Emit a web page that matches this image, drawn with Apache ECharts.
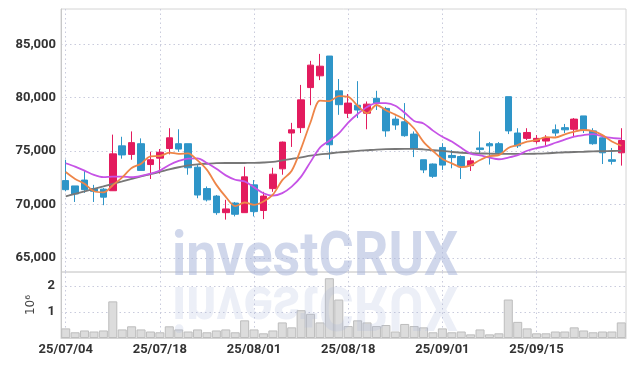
<!DOCTYPE html>
<html><head><meta charset="utf-8">
<script src="https://cdn.jsdelivr.net/npm/echarts@6/dist/echarts.min.js"></script>
<style>html,body{margin:0;padding:0;background:#fff}#c{width:634px;height:366px}</style>
</head><body><div id="c"></div><script>
const dates = ['25/07/04','25/07/07','25/07/08','25/07/09','25/07/10','25/07/11','25/07/14','25/07/15','25/07/16','25/07/17',
'25/07/18','25/07/21','25/07/22','25/07/23','25/07/24','25/07/25','25/07/28','25/07/29','25/07/30','25/07/31',
'25/08/01','25/08/04','25/08/05','25/08/06','25/08/07','25/08/08','25/08/11','25/08/12','25/08/13','25/08/14',
'25/08/18','25/08/19','25/08/20','25/08/21','25/08/22','25/08/25','25/08/26','25/08/27','25/08/28','25/08/29',
'25/09/01','25/09/02','25/09/03','25/09/04','25/09/05','25/09/08','25/09/09','25/09/10','25/09/11','25/09/12',
'25/09/15','25/09/16','25/09/17','25/09/18','25/09/19','25/09/22','25/09/23','25/09/24','25/09/25','25/09/26'];
const opens = [72250,71750,72300,71500,71450,71300,75500,74700,75700,73750,74350,75250,75700,75700,73500,71500,70800,69250,70150,69250,
71850,69450,71500,73350,76700,77200,80950,82050,83900,80650,78550,79300,78550,79950,79000,78000,77750,76600,74200,73800,
75350,74600,74500,73650,75300,75700,75700,80100,76700,76200,75900,75950,77000,77200,77050,78300,76900,76250,74200,74850];
const closes = [71400,71000,71400,71250,70700,74750,74650,75800,73200,74200,74900,76250,75200,73450,70900,70450,69250,69600,69100,72600,
69350,70800,72850,75850,77000,79800,83050,82950,75600,79350,79500,78850,79400,79500,76900,77450,76450,75300,73250,72650,
73700,74400,73550,74100,75150,75500,74850,76900,75500,76750,76200,76250,76700,77000,78000,76950,75700,74850,74050,76000];
const lows = [71250,70250,71100,70250,69950,71300,74300,74200,73200,72400,72900,74700,74950,72800,70600,70300,69050,68600,68900,69250,
68900,68650,71200,72800,75400,76700,79300,81650,74250,78400,78100,78100,77050,78850,76350,77000,76350,74450,72950,72500,
73250,73400,72400,73150,74800,73750,74550,76600,75300,76050,75700,75500,76400,76700,76400,76700,75600,73800,73750,73650];
const highs = [74200,71750,73150,71850,71550,76550,76350,76850,76200,74950,75200,77150,77050,75700,73700,71700,70900,70450,70250,73550,
72300,71200,73450,75900,77650,81200,83450,84100,83900,81750,80350,81550,79650,80650,79150,78250,79500,76850,74200,73850,
75750,75100,74600,74400,76850,75850,75850,80100,77150,77150,76500,76500,77500,77550,78100,78300,77150,76300,75300,77150];
const volumes = [370000,220000,290000,250000,290000,1410000,330000,450000,330000,250000,220000,450000,330000,250000,330000,220000,290000,330000,220000,680000,
330000,180000,290000,600000,410000,1070000,930000,600000,2300000,1480000,460000,680000,600000,460000,500000,250000,540000,460000,410000,220000,
370000,220000,250000,140000,330000,140000,180000,1480000,620000,370000,180000,180000,250000,250000,410000,290000,220000,250000,250000,600000];
const ma5 = [73050,72400,71950,71250,71150,71820,72550,73430,73820,74520,74550,74870,74750,74800,74140,73250,71850,70730,69860,70200,
69980,70290,70940,72290,73170,75260,77710,79730,79680,80150,80090,79250,78540,79320,78830,78420,77940,77120,75870,75020,
74270,73860,73510,73680,74180,74540,74630,75300,75580,75900,76040,76320,76280,76580,76830,76980,76870,76500,75910,75510];
const ma10 = [73870,73550,73180,72780,72570,72620,72620,72570,72690,72900,73185,73710,74090,74310,74330,73900,73360,72740,72330,72170,
71615,71070,70835,71075,71685,72620,74000,75335,75985,76660,77675,78480,79135,79500,79490,79255,78595,77830,77595,76925,
76345,75900,75315,74775,74600,74405,74245,74405,74630,75040,75290,75475,75790,76080,76365,76510,76595,76390,76245,76170];
const ma60 = [70780,71010,71240,71480,71710,71950,72180,72410,72640,72850,73070,73300,73500,73670,73770,73830,73880,73890,73890,73900,
73910,73940,74000,74140,74280,74420,74580,74700,74790,74890,74950,75030,75090,75150,75190,75210,75220,75220,75170,75090,
75030,74930,74860,74810,74790,74770,74750,74750,74750,74750,74770,74800,74850,74900,74930,74950,74980,75000,75020,75030];
const priceTickLabels = {65000:'65,000',70000:'70,000',75000:'75,000',80000:'80,000',85000:'85,000'};
const volumeTickLabels = {1000000:'1',2000000:'2'};
const watermark = 'investCRUX';

const candles = opens.map((o,i)=>[o, closes[i], lows[i], highs[i]]);
const UP='#e31b5e', DOWN='#2e95c8';
const gridLine = {show:true, interval:9, alignWithLabel:true, lineStyle:{color:'#c9cbdc', type:[1.5,3], width:1}};
const font = 'Roboto';
const lbl = {color:'#333', fontFamily:font, fontWeight:'bold', fontSize:13};
const chart = echarts.init(document.getElementById('c'), null, {renderer:'canvas'});
chart.setOption({
  animation:false,
  backgroundColor:'#fff',
  grid:[
    {left:61, right:8, top:9, height:263, show:true, borderColor:'#d4d4d4', borderWidth:1},
    {left:61, right:8, top:272, height:66, show:true, borderColor:'#d4d4d4', borderWidth:1}
  ],
  xAxis:[
    {type:'category', gridIndex:0, data:dates, boundaryGap:true, axisLine:{show:false}, axisTick:{show:false}, axisLabel:{show:false}, splitLine:gridLine},
    {type:'category', gridIndex:1, data:dates, boundaryGap:true, axisLine:{show:true, lineStyle:{color:'#d4d4d4'}}, axisTick:{show:false},
      axisLabel:Object.assign({interval:9, margin:5}, lbl), splitLine:gridLine}
  ],
  yAxis:[
    {type:'value', gridIndex:0, min:63700, max:88300, minInterval:5000, maxInterval:5000, axisLine:{show:true, lineStyle:{color:'#c8c8c8'}}, axisTick:{show:false},
      axisLabel:Object.assign({showMinLabel:false, showMaxLabel:false, margin:5, formatter:v=>priceTickLabels[v]||''}, lbl),
      splitLine:{show:true, showMinLine:false, showMaxLine:false, lineStyle:{color:'#c9cbdc', type:[1.5,3], width:1}}},
    {type:'value', gridIndex:1, min:0, max:2540000, minInterval:1000000, maxInterval:1000000, axisLine:{show:true, lineStyle:{color:'#c8c8c8'}}, axisTick:{show:false},
      name:'10\u2076', nameLocation:'middle', nameRotate:90, nameGap:24, nameTextStyle:{color:'#444', fontFamily:'DejaVu Sans', fontSize:12},
      axisLabel:Object.assign({showMinLabel:false, showMaxLabel:false, margin:6, formatter:v=>volumeTickLabels[v]||''}, lbl),
      splitLine:{show:true, showMinLine:false, showMaxLine:false, lineStyle:{color:'#c9cbdc', type:[1.5,3], width:1}}}
  ],
  series:[
    {type:'candlestick', xAxisIndex:0, yAxisIndex:0, data:candles, barWidth:7,
      itemStyle:{color:UP, color0:DOWN, borderColor:UP, borderColor0:DOWN, borderWidth:1}},
    {type:'line', xAxisIndex:0, yAxisIndex:0, data:ma60, symbol:'none', smooth:0.3, lineStyle:{color:'#777777', width:1.9}, z:3},
    {type:'line', xAxisIndex:0, yAxisIndex:0, data:ma10, symbol:'none', smooth:0.3, lineStyle:{color:'#c653e6', width:1.8}, z:3},
    {type:'line', xAxisIndex:0, yAxisIndex:0, data:ma5, symbol:'none', smooth:0.3, lineStyle:{color:'#ee8548', width:1.8}, z:3},
    {type:'bar', xAxisIndex:1, yAxisIndex:1, data:volumes, barCategoryGap:'4%', itemStyle:{color:'#dcdcdc', borderColor:'#bdbdbd', borderWidth:1}}
  ],
  graphic:[
    {type:'text', x:172, y:228, scaleX:0.87, z:100, silent:true, style:{text:watermark, font:'bold 62px Roboto', fill:'rgba(170,182,218,0.55)'}},
    {type:'text', x:172, y:333, scaleX:0.87, scaleY:-1, z:100, silent:true, style:{text:watermark, font:'bold 62px Roboto', fill:'rgba(170,182,218,0.22)'}}
  ]
});
</script></body></html>
